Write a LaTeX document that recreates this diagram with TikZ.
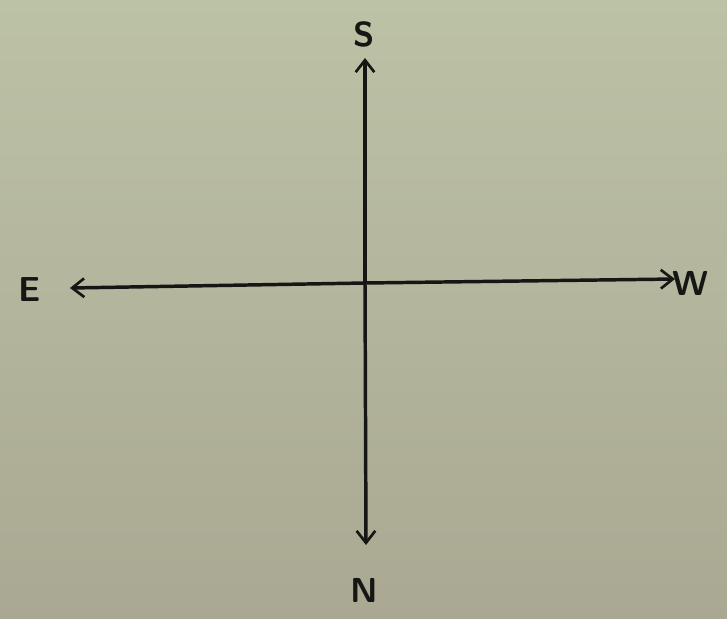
\documentclass[tikz,border=0pt]{standalone}
\usepackage{tikz}
\usetikzlibrary{arrows.meta}
\definecolor{paper}{RGB}{188,194,166}
\definecolor{paperdark}{RGB}{170,168,146}
\definecolor{ink}{RGB}{22,22,20}

\begin{document}
\begin{tikzpicture}[x=0.75pt,y=-0.75pt,
  axis/.style={ink,line width=2.6pt,line cap=round,-{Straight Barb[length=9pt,width=14pt,line width=2pt]}},
  dirlabel/.style={ink,font=\sffamily\bfseries\fontsize{26}{30}\selectfont,inner sep=0pt}]
\shade[top color=paper,bottom color=paperdark] (0,0) rectangle (727,618);
\useasboundingbox (0,0) rectangle (727,618);
\coordinate (o) at (365,283);
\coordinate (tipS) at (365,58);\coordinate (tipN) at (366,545);
\coordinate (tipE) at (70,288);\coordinate (tipW) at (675,279);
\node[dirlabel] (S) at (364,34) {S};
\node[dirlabel] (N) at (364,590) {N};
\node[dirlabel] (E) at (30,290) {E};
\node[dirlabel] (W) at (690,283) {W};
\draw[axis] (o)--(tipS);\draw[axis] (o)--(tipN);
\draw[axis] (o)--(tipE);\draw[axis] (o)--(tipW);
\end{tikzpicture}
\end{document}
